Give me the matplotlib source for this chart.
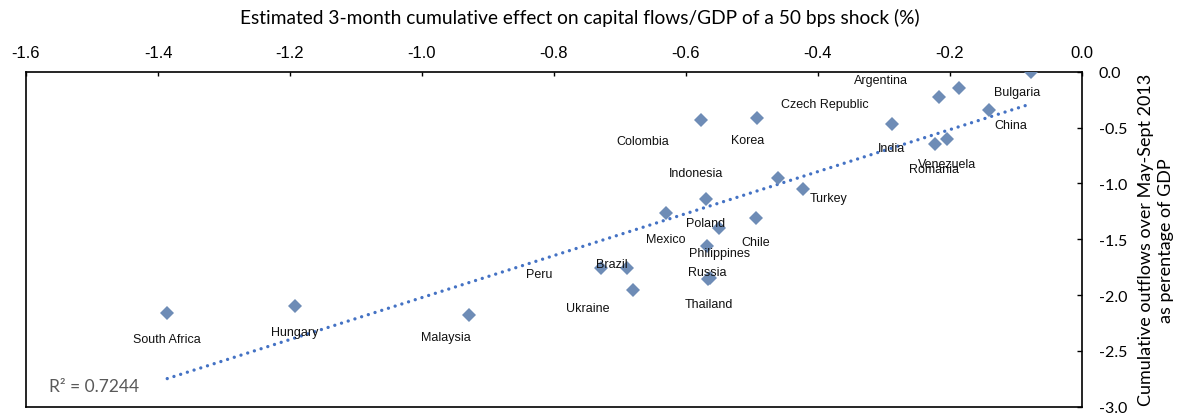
import numpy as np
import matplotlib
matplotlib.use("Agg")
import matplotlib.pyplot as plt
from matplotlib.ticker import FixedLocator, FormatStrFormatter

plt.rcParams["axes.unicode_minus"] = False

# Country data: estimated effect (x, % of GDP) vs. realised outflows (y, % of GDP)
countries = ["South Africa", "Hungary", "Malaysia", "Peru", "Brazil", "Ukraine",
             "Russia", "Thailand", "Philippines", "Poland", "Mexico", "Chile",
             "Indonesia", "", "Turkey", "Colombia", "Korea", "India",
             "Venezuela", "Romania", "China", "Argentina", "Czech Republic",
             "Bulgaria"]
effect = [-1.386, -1.193, -0.929, -0.729, -0.690, -0.681,
          -0.564, -0.566, -0.568, -0.550, -0.631, -0.494,
          -0.570, -0.461, -0.422, -0.578, -0.493, -0.288,
          -0.205, -0.222, -0.141, -0.187, -0.217,
          -0.078]
outflows = [-2.163, -2.095, -2.175, -1.760, -1.760, -1.952,
            -1.847, -1.852, -1.563, -1.399, -1.265, -1.310,
            -1.140, -0.952, -1.050, -0.430, -0.415, -0.468,
            -0.603, -0.650, -0.343, -0.143, -0.224,
            -0.003]
# label offsets (pixels, right / down) from each point
label_dx = [0, 0, -23, -62, -15, -45,
            -3, 0, 12, -13, 0, 0,
            -10, 0, 25, -58, -9, 0,
            0, -1, 22, -78, -114,
            -13]
label_dy = [26, 26, 22, 6, -4, 18,
            -6, 25, 7, -5, 26, 24,
            -26, 0, 9, 21, 22, 24,
            25, 25, 15, -8, 7,
            20]

x_ticks = [-1.6, -1.4, -1.2, -1.0, -0.8, -0.6, -0.4, -0.2, 0.0]
y_ticks = [0.0, -0.5, -1.0, -1.5, -2.0, -2.5, -3.0]
r2_text = "R² = 0.7244"

title = "Estimated 3-month cumulative effect on capital flows/GDP of a 50 bps shock (%)"
ylabel = "Cumulative outflows over May-Sept 2013\nas perentage of GDP"

W, H = 1186, 414
AX_L, AX_R, AX_T, AX_B = 26, 1082, 72.7, 407.7
fig = plt.figure(figsize=(W / 100, H / 100), dpi=100)
ax = fig.add_axes([AX_L / W, 1 - AX_B / H, (AX_R - AX_L) / W, (AX_B - AX_T) / H])

x = np.array(effect)
y = np.array(outflows)

# linear trend line across the data range
slope, intercept = np.polyfit(x, y, 1)
xl = np.array([x.min(), x.max()])
ax.plot(xl, slope * xl + intercept, color="#4472C4", lw=2.4,
        linestyle=(0, (0.01, 2.1)), dash_capstyle="round", zorder=2)

ax.plot(x, y, linestyle="none", marker="D", ms=7, color="#6E8CB6",
        markeredgewidth=0, zorder=3)

for name, xi, yi, dx, dy in zip(countries, effect, outflows, label_dx, label_dy):
    if name:
        ax.annotate(name, (xi, yi), xytext=(dx, -dy), textcoords="offset pixels",
                    ha="center", va="center", fontsize=9,
                    family="Liberation Sans", color="#111111", zorder=4)

ax.set_xlim(-1.6, 0.0)
ax.set_ylim(-3.0, 0.0)

ax.xaxis.tick_top()
ax.xaxis.set_major_locator(FixedLocator(x_ticks))
ax.xaxis.set_major_formatter(FormatStrFormatter("%.1f"))
ax.tick_params(axis="x", direction="in", length=3, width=1, pad=8.5,
               labelsize=12, top=True, bottom=False)
for t in ax.get_xticklabels():
    t.set_family("Liberation Sans")

ax.yaxis.tick_right()
ax.yaxis.set_major_locator(FixedLocator(y_ticks))
ax.yaxis.set_major_formatter(FormatStrFormatter("%.1f"))
ax.tick_params(axis="y", direction="in", length=3.5, width=1, pad=12,
               labelsize=11.5, right=True, left=False)
for t in ax.get_yticklabels():
    t.set_family("Lato")

ax.yaxis.set_label_position("right")
ax.set_ylabel(ylabel, family="Lato", fontsize=13, rotation=90,
              labelpad=8, linespacing=1.25)

for s in ax.spines.values():
    s.set_linewidth(1.2)
    s.set_color("black")

fig.text(580 / W, 1 - 18 / H, title, ha="center", va="center",
         family="Lato", fontsize=13.8)

ax.text((49 - AX_L) / (AX_R - AX_L), 1 - (386.7 - AX_T) / (AX_B - AX_T), r2_text,
        transform=ax.transAxes, ha="left", va="center", family="Lato",
        fontsize=12.5, color="#595959")

fig.savefig("out.png", dpi=100)
